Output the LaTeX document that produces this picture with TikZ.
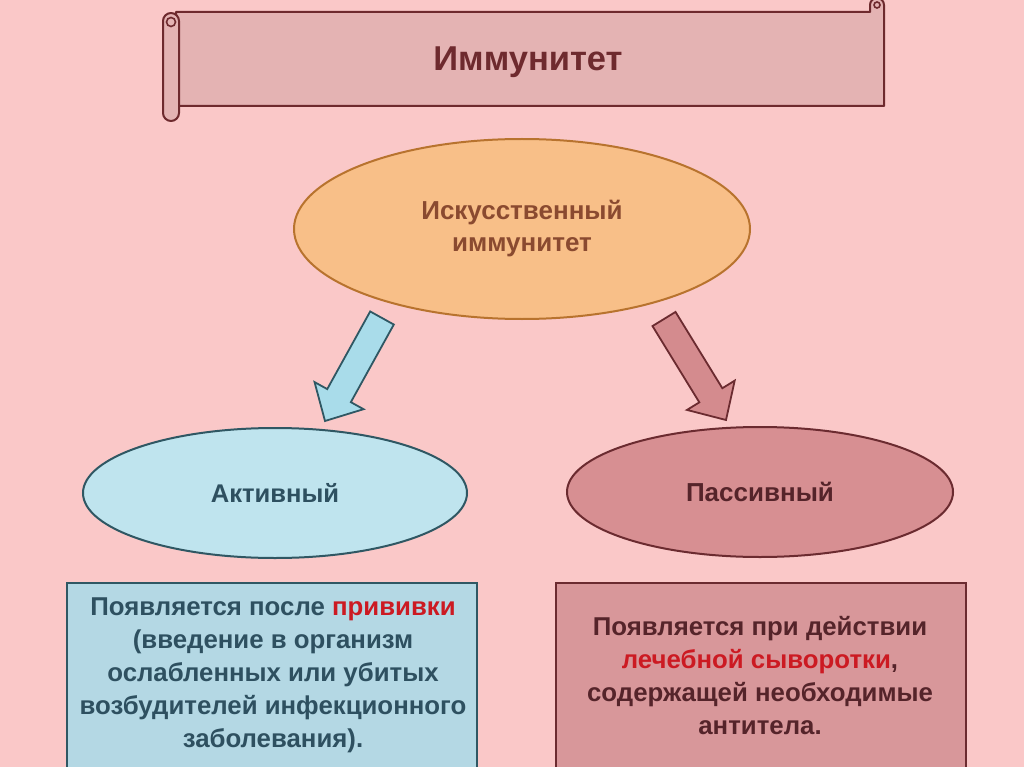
\documentclass[tikz,border=0pt]{standalone}
\usepackage{fontspec}
\setmainfont{Liberation Sans}
\usetikzlibrary{calc,shapes.geometric}
\definecolor{bg}{HTML}{FAC8C8}
\definecolor{scrollfill}{HTML}{E4B3B3}
\definecolor{scrolldraw}{HTML}{6E2A2E}
\definecolor{orfill}{HTML}{F8BF88}
\definecolor{ordraw}{HTML}{B8732E}
\definecolor{ortext}{HTML}{8A4A30}
\definecolor{blfill}{HTML}{BFE4EE}
\definecolor{blbox}{HTML}{B4D8E4}
\definecolor{blarrow}{HTML}{A9DCEA}
\definecolor{bldraw}{HTML}{2F5763}
\definecolor{bltext}{HTML}{2E5060}
\definecolor{rdfill}{HTML}{D78F92}
\definecolor{rdbox}{HTML}{D8979A}
\definecolor{rdarrow}{HTML}{D48B8E}
\definecolor{rddraw}{HTML}{6B2B30}
\definecolor{rdtext}{HTML}{55242A}
\definecolor{hl}{HTML}{CC1A22}
\tikzset{
  scroll/.style={draw=scrolldraw, fill=scrollfill, line width=2pt, line join=round},
  ell/.style={ellipse, line width=2pt, inner sep=0pt},
  box/.style={line width=2pt},
  barrow/.style={line width=1.8pt, line join=miter},
}
\newcommand\blockarr[3]{%
  \coordinate (#1hb) at ($(#2)!29pt!(#1)$);
  \draw[#3] ($(#1)!13.5pt!90:(#2)$) -- ($(#1hb)!13.5pt!90:(#2)$) -- ($(#1hb)!28pt!90:(#2)$)
    -- (#2) -- ($(#1hb)!28pt!-90:(#2)$) -- ($(#1hb)!13.5pt!-90:(#2)$)
    -- ($(#1)!13.5pt!-90:(#2)$) -- cycle;}
\begin{document}
\begin{tikzpicture}[x=1pt,y=-1pt]
\useasboundingbox (0,0) rectangle (1024,767);
\fill[bg] (0,0) rectangle (1024,767);
\clip (0,0) rectangle (1024,767);
% scroll banner
\draw[scroll] (176,12) -- (870,12) -- (870,5) arc[start angle=180,end angle=360,radius=7]
  -- (884,106) -- (176,106) -- cycle;
\draw[scrolldraw, line width=1.6pt] (877,5) circle (3);
\draw[scroll] (163,21) -- (163,113) arc[start angle=180,end angle=0,radius=8]
  -- (179,21) arc[start angle=0,end angle=-180,radius=8] -- cycle;
\draw[scrolldraw, line width=1.6pt] (171,22) circle (4.5);
\node[text=scrolldraw, font=\bfseries\fontsize{34.5}{38}\selectfont] (title) at (528,62) {Иммунитет};
% main ellipse
\node[ell, draw=ordraw, fill=orfill, minimum width=456pt, minimum height=180pt,
  text=ortext, align=center, font=\bfseries\fontsize{26}{32}\selectfont] (art) at (522,229)
  {Искусственный\\иммунитет};
% lower ellipses
\node[ell, draw=bldraw, fill=blfill, minimum width=384pt, minimum height=130pt,
  text=bltext, font=\bfseries\fontsize{25.6}{30}\selectfont] (act) at (275,493) {Активный};
\node[ell, draw=rddraw, fill=rdfill, minimum width=386pt, minimum height=130pt,
  text=rdtext, font=\bfseries\fontsize{26}{30}\selectfont] (pas) at (760,492) {Пассивный};
% arrows
\coordinate (ba) at (382,318);
\coordinate (bb) at (325,421);
\coordinate (ra) at (664,319);
\coordinate (rb) at (726,420);
\blockarr{ba}{bb}{barrow, draw=bldraw, fill=blarrow}
\blockarr{ra}{rb}{barrow, draw=rddraw, fill=rdarrow}
% boxes
\draw[box, draw=bldraw, fill=blbox] (67,583) rectangle (477,790);
\draw[box, draw=rddraw, fill=rdbox] (556,583) rectangle (966,790);
\node[text=bltext, align=center, font=\bfseries\fontsize{25.8}{33}\selectfont, anchor=north] (t1) at (273,594)
  {Появляется после \textcolor{hl}{прививки}\\(введение в организм\\ослабленных или убитых\\возбудителей инфекционного\\заболевания).};
\node[text=rdtext, align=center, font=\bfseries\fontsize{25.8}{33}\selectfont, anchor=north] (t2) at (760,613)
  {Появляется при действии\\\textcolor{hl}{лечебной сыворотки},\\содержащей необходимые\\антитела.};
\end{tikzpicture}
\end{document}
